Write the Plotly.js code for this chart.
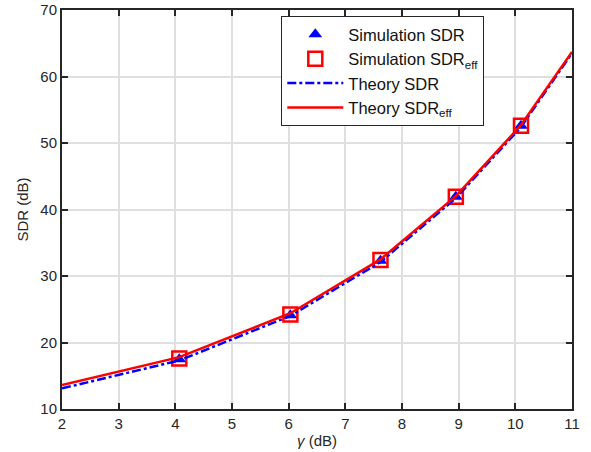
<!DOCTYPE html>
<html>
<head>
<meta charset="utf-8">
<script src="https://cdn.plot.ly/plotly-3.0.1.min.js"></script>
<style>html,body{margin:0;padding:0;background:#fff;}</style>
</head>
<body>
<div id="chart" style="width:591px;height:452px;"></div>
<script>
const simGamma = [4.07, 6.03, 7.62, 8.95, 10.1];
const simSDR = [17.5, 24.1, 32.3, 41.9, 52.6];
const simSDReff = [17.6, 24.2, 32.4, 41.9, 52.6];
const theoryGamma = [2, 4.07, 6.03, 7.62, 8.95, 10.1, 11];
const theorySDR = [13.1, 17.3, 24.0, 32.1, 41.7, 52.4, 63.5];
const theorySDReff = [13.6, 17.8, 24.4, 32.5, 42.0, 52.7, 63.7];
const xTicks = [2, 3, 4, 5, 6, 7, 8, 9, 10, 11];
const yTicks = [10, 20, 30, 40, 50, 60, 70];

const font = {family: 'Liberation Sans, Arial, sans-serif', size: 15, color: '#262626'};
const traces = [
  {x: simGamma, y: simSDR, mode: 'markers', name: 'Simulation SDR',
   marker: {symbol: 'triangle-up', size: 12, color: '#0000ff'}},
  {x: simGamma, y: simSDReff, mode: 'markers', name: 'Simulation SDR<sub>eff</sub>',
   marker: {symbol: 'square-open', size: 14, color: '#ff0000', line: {width: 2.5, color: '#ff0000'}}},
  {x: theoryGamma, y: theorySDR, mode: 'lines', name: 'Theory SDR',
   line: {color: '#0000ff', width: 2.5, dash: 'dashdot'}},
  {x: theoryGamma, y: theorySDReff, mode: 'lines', name: 'Theory SDR<sub>eff</sub>',
   line: {color: '#ff0000', width: 2.5}}
];
const axisCommon = {
  showline: true, linecolor: '#262626', linewidth: 2, mirror: 'allticks',
  ticks: 'inside', ticklen: 6, tickwidth: 2, tickcolor: '#262626',
  showgrid: true, gridcolor: '#dfdfdf', gridwidth: 2, zeroline: false,
  tickfont: font
};
const layout = {
  width: 591, height: 452,
  margin: {l: 62, r: 19, t: 10, b: 43},
  paper_bgcolor: '#fff', plot_bgcolor: '#fff',
  font: font,
  showlegend: true,
  legend: {x: 0.43, y: 0.985, xanchor: 'left', yanchor: 'top',
    bgcolor: '#fff', bordercolor: '#262626', borderwidth: 1,
    font: {family: 'Liberation Sans, Arial, sans-serif', size: 16.5, color: '#111'},
    itemwidth: 56, tracegroupgap: 0},
  xaxis: Object.assign({}, axisCommon, {range: [2, 11], tickvals: xTicks,
    title: {text: '<i>γ</i> (dB)', font: font, standoff: 4}}),
  yaxis: Object.assign({}, axisCommon, {range: [10, 70], tickvals: yTicks,
    title: {text: 'SDR (dB)', font: font, standoff: 8}})
};
Plotly.newPlot('chart', traces, layout, {displayModeBar: false, staticPlot: true});
</script>
</body>
</html>
